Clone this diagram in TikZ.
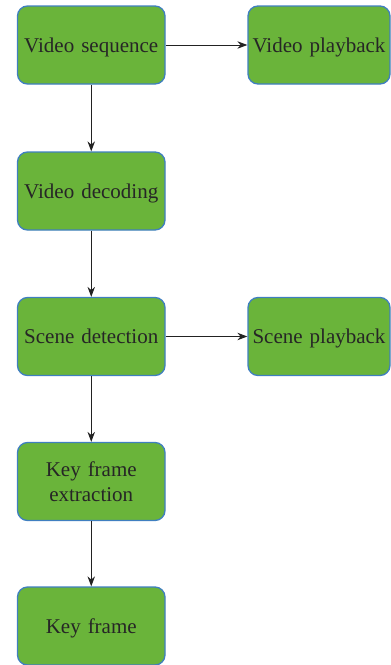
\documentclass[tikz,border=0pt]{standalone}
\usepackage{fontspec}
\setmainfont{Liberation Serif}
\usetikzlibrary{arrows.meta}
\definecolor{boxgreen}{HTML}{6AB43A}
\definecolor{boxblue}{HTML}{3F7FC0}
\definecolor{linegray}{HTML}{222222}
\newcommand\tstrut{\rule[-7.5pt]{0pt}{29pt}}
\begin{document}
\begin{tikzpicture}[x=1pt,y=-1pt,
  box/.style={draw=boxblue, fill=boxgreen, line width=1.3pt, rounded corners=10pt,
    minimum height=78pt, inner sep=0pt, align=center, font=\fontsize{21}{25}\selectfont, text=black!85},
  lbox/.style={box, minimum width=147.5pt, text width=145pt},
  rbox/.style={box, minimum width=142pt, text width=140pt},
  conn/.style={draw=linegray, line width=1pt, -{Stealth[length=10pt,width=7.5pt]}}]
\useasboundingbox (0,0) rectangle (391,665);
\node[lbox] (vs) at (91.25,45) {\tstrut Video sequence};
\node[rbox] (vp) at (319,45) {\tstrut Video playback};
\node[lbox] (vd) at (91.25,191) {\tstrut Video decoding};
\node[lbox] (sd) at (91.25,336.5) {\tstrut Scene detection};
\node[rbox] (sp) at (319,336.5) {\tstrut Scene playback};
\node[lbox] (kfe) at (91.25,481.5) {\tstrut Key frame\\extraction\strut};
\node[lbox] (kf) at (91.25,626) {\tstrut Key frame};
\draw[conn] (vs) -- (vp);
\draw[conn] (vs) -- (vd);
\draw[conn] (vd) -- (sd);
\draw[conn] (sd) -- (sp);
\draw[conn] (sd) -- (kfe);
\draw[conn] (kfe) -- (kf);
\end{tikzpicture}
\end{document}
